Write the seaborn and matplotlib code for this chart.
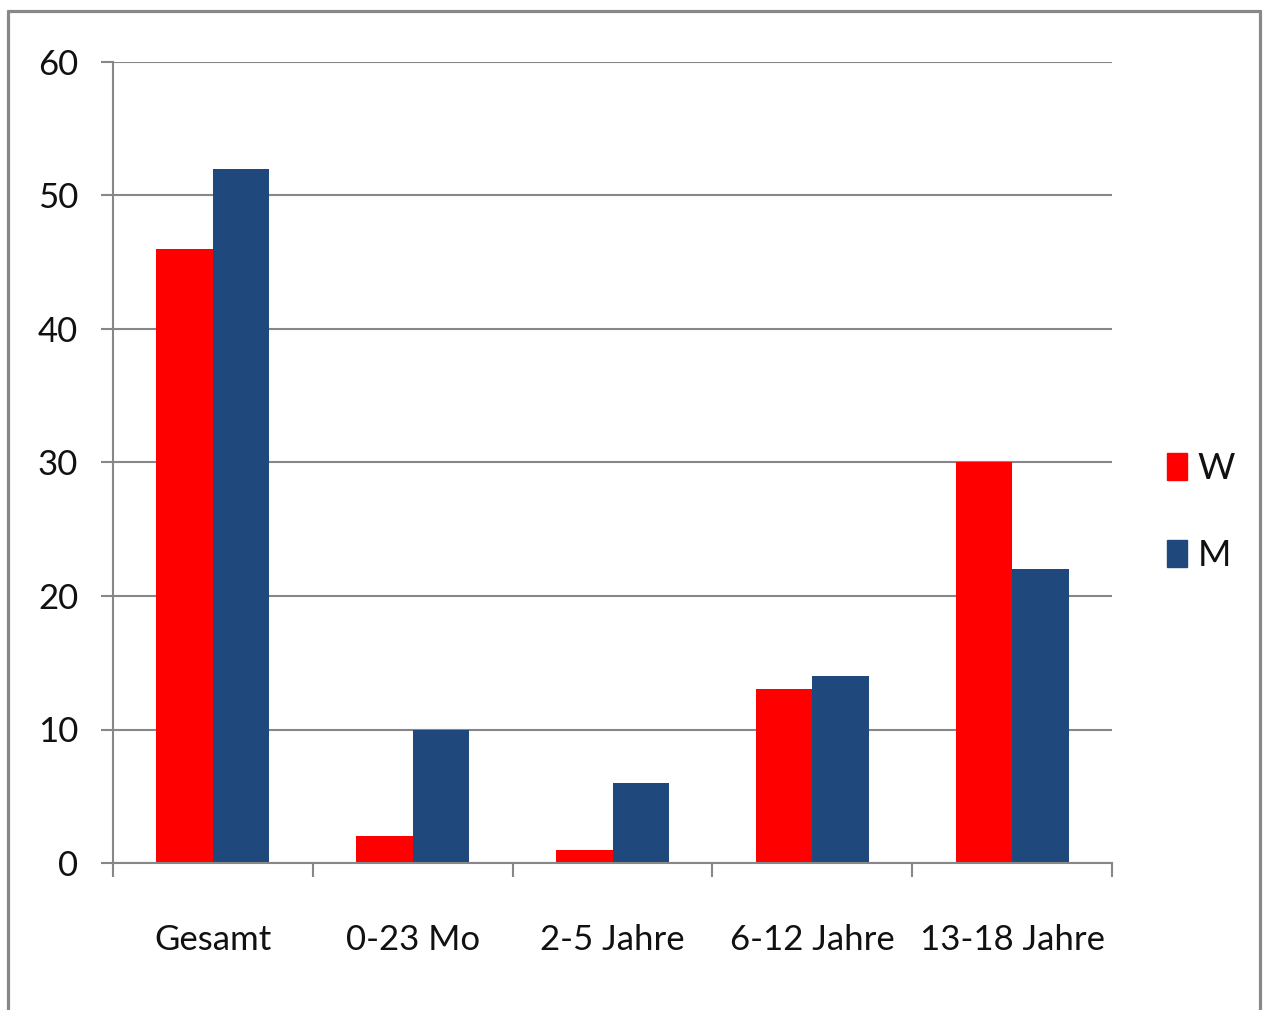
import matplotlib
matplotlib.use("Agg")
import matplotlib.pyplot as plt
from matplotlib.lines import Line2D
from matplotlib.ticker import FixedLocator, MultipleLocator
import pandas as pd
import seaborn as sns

# Data
categories = ["Gesamt", "0-23 Mo", "2-5 Jahre", "6-12 Jahre", "13-18 Jahre"]
groups = ["W", "M"]
values_w = [46, 2, 1, 13, 30]
values_m = [52, 10, 6, 14, 22]
y_ticks = [0, 10, 20, 30, 40, 50, 60]

colors = {"W": "#FF0000", "M": "#1F497D"}
grid_gray = "#878787"

df = pd.DataFrame({
    "Kategorie": categories * 2,
    "Gruppe": ["W"] * len(categories) + ["M"] * len(categories),
    "Wert": values_w + values_m,
})

sns.set_theme(style="white")
plt.rcParams["font.family"] = ["Lato", "DejaVu Sans"]

fig = plt.figure(figsize=(12.68, 10.10), dpi=100)
ax = fig.add_axes([113 / 1268, 1 - 863 / 1010, (1112 - 113) / 1268, (863 - 62) / 1010])

sns.barplot(data=df, x="Kategorie", y="Wert", hue="Gruppe", order=categories,
            hue_order=groups, palette=colors, width=0.565, gap=0,
            saturation=1, linewidth=0, ax=ax, legend=False)

ax.set_xlim(-0.5, len(categories) - 0.5)
ax.set_ylim(0, 60)
ax.set_xlabel("")
ax.set_ylabel("")

# Horizontal gridlines
ax.yaxis.set_major_locator(FixedLocator(y_ticks))
ax.grid(axis="y", color=grid_gray, linewidth=1.5)
ax.set_axisbelow(True)

# Spines
for side in ("top", "right"):
    ax.spines[side].set_visible(False)
for side in ("left", "bottom"):
    ax.spines[side].set_color(grid_gray)
    ax.spines[side].set_linewidth(1.5)

# Ticks: y ticks outward, x ticks at category boundaries
ax.tick_params(axis="y", which="major", length=9, width=1.5, color=grid_gray,
               pad=16, labelsize=25, labelcolor="#111111", left=True)
ax.xaxis.set_minor_locator(MultipleLocator(1, offset=0.5))
ax.tick_params(axis="x", which="minor", length=10, width=1.5, color=grid_gray,
               direction="out", bottom=True)
ax.tick_params(axis="x", which="major", length=0, pad=44, labelsize=25,
               labelcolor="#111111")

# Legend
handles = [plt.Rectangle((0, 0), 1, 1, color=colors[g]) for g in groups]
fig.legend(handles, groups, loc="center left",
           bbox_to_anchor=(1167 / 1268, 1 - 512 / 1010), frameon=False,
           fontsize=26, handlelength=0.55, handleheight=0.8,
           handletextpad=0.3, labelspacing=1.5, borderpad=0,
           borderaxespad=0, labelcolor="#111111")

# Outer frame (open at the bottom)
frame_kw = dict(color="#888888", linewidth=2.3, transform=fig.transFigure)
x_l, x_r, y_t = 7.5 / 1268, 1260 / 1268, 1 - 10.5 / 1010
fig.add_artist(Line2D([x_l, x_l], [0, y_t], **frame_kw))
fig.add_artist(Line2D([x_l, x_r], [y_t, y_t], **frame_kw))
fig.add_artist(Line2D([x_r, x_r], [0, y_t], **frame_kw))

fig.savefig("out.png", dpi=100, facecolor="white")
